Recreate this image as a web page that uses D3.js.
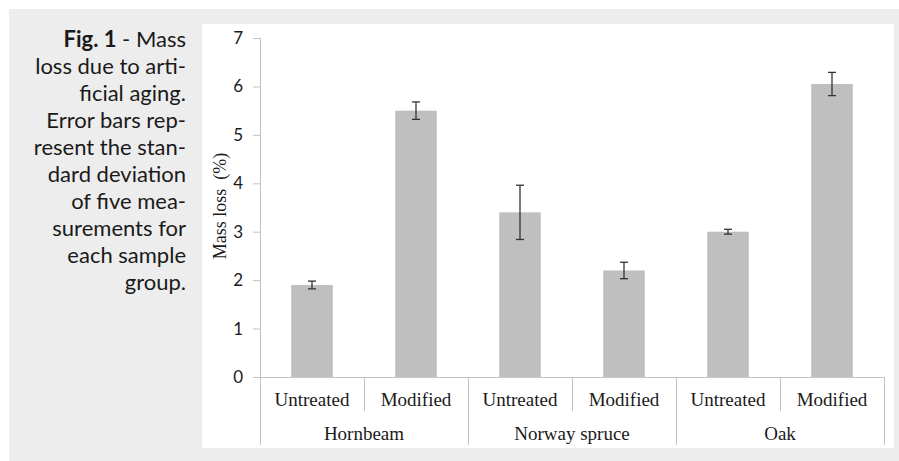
<!DOCTYPE html>
<html>
<head>
<meta charset="utf-8">
<script src="https://cdn.jsdelivr.net/npm/d3@7"></script>
<style>
  html, body { margin: 0; padding: 0; background: #fff; }
  svg { display: block; }
</style>
</head>
<body>
<svg id="chart" width="899" height="461"></svg>
<script>
// Mass loss after artificial aging, per wood species and treatment.
const species    = ["Hornbeam", "Norway spruce", "Oak"];
const treatments = ["Untreated", "Modified"];
const massLoss   = [1.9, 5.5, 3.4, 2.2, 3.0, 6.05];   // %
const massLossSd = [0.08, 0.18, 0.56, 0.17, 0.05, 0.24];
const yTicks     = [0, 1, 2, 3, 4, 5, 6, 7];
const captionLines = [
  ["Fig. 1", " - Mass"],
  ["", "loss due to arti-"],
  ["", "ficial aging."],
  ["", "Error bars rep-"],
  ["", "resent the stan-"],
  ["", "dard deviation"],
  ["", "of five mea-"],
  ["", "surements for"],
  ["", "each sample"],
  ["", "group."]
];

// one row per bar, built from the arrays above
const rows = [];
species.forEach((s, i) => treatments.forEach((t, j) => {
  const k = i * treatments.length + j;
  rows.push({ key: s + "|" + t, species: s, treatment: t, value: massLoss[k], sd: massLossSd[k] });
}));

const svg = d3.select("#chart");
const axisColor = "#c3c3c3";
const serif = "'Liberation Serif', 'Times New Roman', serif";
const sans  = "Lato, 'Open Sans', sans-serif";

// page background + white chart panel
svg.append("rect").attr("x", 9).attr("y", 9).attr("width", 890).attr("height", 452).attr("fill", "#ededed");
svg.append("rect").attr("x", 202).attr("y", 24).attr("width", 692).attr("height", 424).attr("fill", "#fff");

// caption, right aligned
const cap = svg.append("text")
  .attr("text-anchor", "end")
  .attr("font-family", sans)
  .attr("font-size", 22)
  .attr("fill", "#1a1a1a");
captionLines.forEach((ln, i) => {
  const t = cap.append("tspan").attr("x", 186).attr("y", 47 + i * 27);
  if (ln[0]) t.append("tspan").attr("font-weight", "bold").text(ln[0]);
  t.append("tspan").text(ln[1]);
});

const x = d3.scaleBand()
  .domain(rows.map(d => d.key))
  .range([260, 884])
  .paddingInner(0.6)
  .paddingOuter(0.3);
const y = d3.scaleLinear().domain([0, 7]).range([377, 38]);

// y axis
const yAxis = svg.append("g")
  .attr("transform", "translate(260,0)")
  .call(d3.axisLeft(y).tickValues(yTicks).tickSize(7).tickPadding(10).tickFormat(d3.format("d")));
yAxis.select(".domain").remove();
yAxis.selectAll(".tick line").attr("stroke", axisColor);
yAxis.selectAll(".tick text")
  .attr("font-family", sans)
  .attr("font-size", 17)
  .attr("fill", "#1a1a1a");

svg.append("text")
  .attr("transform", "translate(226,206) rotate(-90)")
  .attr("text-anchor", "middle")
  .attr("font-family", serif)
  .attr("font-size", 18)
  .attr("fill", "#1a1a1a")
  .attr("xml:space", "preserve")
  .style("white-space", "pre")
  .text("Mass loss  (%)");

// bars
svg.append("g").selectAll("rect")
  .data(rows)
  .join("rect")
  .attr("x", d => x(d.key))
  .attr("y", d => y(d.value))
  .attr("width", x.bandwidth())
  .attr("height", d => y(0) - y(d.value))
  .attr("fill", "#bfbfbf");

// error bars
const eb = svg.append("g").attr("stroke", "#333").attr("stroke-width", 1.3);
rows.forEach(d => {
  const cx = x(d.key) + x.bandwidth() / 2;
  eb.append("line").attr("x1", cx).attr("x2", cx).attr("y1", y(d.value + d.sd)).attr("y2", y(d.value - d.sd));
  [d.value + d.sd, d.value - d.sd].forEach(v => {
    eb.append("line").attr("x1", cx - 4).attr("x2", cx + 4).attr("y1", y(v)).attr("y2", y(v));
  });
});

// axes lines and category table
const grid = svg.append("g").attr("stroke", axisColor).attr("stroke-width", 1).attr("shape-rendering", "crispEdges");
grid.append("line").attr("x1", 260).attr("x2", 260).attr("y1", y(7)).attr("y2", y(0));
grid.append("line").attr("x1", 260).attr("x2", 884).attr("y1", y(0)).attr("y2", y(0));

const step = x.step();
const x0 = x.range()[0];
d3.range(rows.length + 1).forEach(i => {
  const gx = x0 + i * step;
  const isGroupEdge = i % treatments.length === 0;
  grid.append("line")
    .attr("x1", gx).attr("x2", gx)
    .attr("y1", y(0)).attr("y2", isGroupEdge ? 445 : 411);
});

svg.append("g").selectAll("text")
  .data(rows)
  .join("text")
  .attr("x", d => x(d.key) + x.bandwidth() / 2)
  .attr("y", 406)
  .attr("text-anchor", "middle")
  .attr("font-family", serif)
  .attr("font-size", 19)
  .attr("fill", "#1a1a1a")
  .text(d => d.treatment);

svg.append("g").selectAll("text")
  .data(species)
  .join("text")
  .attr("x", (d, i) => x0 + (i + 0.5) * treatments.length * step)
  .attr("y", 440)
  .attr("text-anchor", "middle")
  .attr("font-family", serif)
  .attr("font-size", 19)
  .attr("fill", "#1a1a1a")
  .text(d => d);
</script>
</body>
</html>
